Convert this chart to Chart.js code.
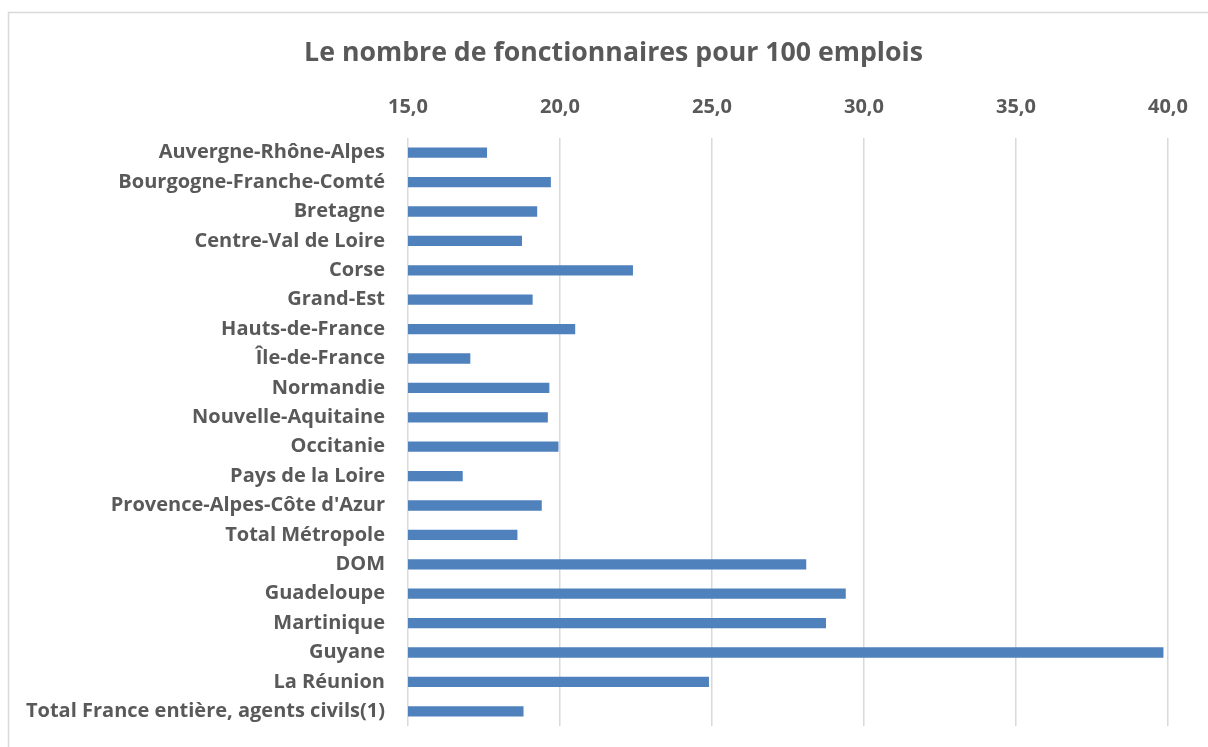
<!DOCTYPE html>
<html>
<head>
<meta charset="utf-8">
<script src="https://cdn.jsdelivr.net/npm/chart.js@4"></script>
<style>
html,body{margin:0;padding:0;background:#fff;}
#wrap{width:1208px;height:747px;}
</style>
</head>
<body>
<div id="wrap"><canvas id="c" width="1208" height="747"></canvas></div>
<script>
const chartTitle = "Le nombre de fonctionnaires pour 100 emplois";
const categories = [
  "Auvergne-Rhône-Alpes",
  "Bourgogne-Franche-Comté",
  "Bretagne",
  "Centre-Val de Loire",
  "Corse",
  "Grand-Est",
  "Hauts-de-France",
  "Île-de-France",
  "Normandie",
  "Nouvelle-Aquitaine",
  "Occitanie",
  "Pays de la Loire",
  "Provence-Alpes-Côte d'Azur",
  "Total Métropole",
  "DOM",
  "Guadeloupe",
  "Martinique",
  "Guyane",
  "La Réunion",
  "Total France entière, agents civils(1)"
];
const values = [17.6, 19.7, 19.25, 18.75, 22.4, 19.1, 20.5, 17.05, 19.65, 19.6, 19.95, 16.8, 19.4, 18.6, 28.1, 29.4, 28.75, 39.85, 24.9, 18.8];
const axisMin = 15, axisMax = 40, axisStep = 5;

const FONT = "'Open Sans', sans-serif";
const TEXT = "#595959";

const framePlugin = {
  id: 'frameAndTitle',
  beforeDraw(chart) {
    const ctx = chart.ctx;
    ctx.save();
    ctx.fillStyle = '#ffffff';
    ctx.fillRect(0, 0, chart.width, chart.height);
    ctx.strokeStyle = '#d9d9d9';
    ctx.lineWidth = 1.5;
    ctx.beginPath();
    ctx.moveTo(8.5, chart.height);
    ctx.lineTo(8.5, 12.5);
    ctx.lineTo(chart.width, 12.5);
    ctx.stroke();
    ctx.restore();
  },
  afterDraw(chart) {
    const ctx = chart.ctx;
    ctx.save();
    ctx.fillStyle = TEXT;
    ctx.font = "bold 26.7px " + FONT;
    ctx.textAlign = 'center';
    ctx.textBaseline = 'middle';
    ctx.fillText(chartTitle, 613.5, 53);
    ctx.restore();
  }
};

new Chart(document.getElementById('c'), {
  type: 'bar',
  data: {
    labels: categories,
    datasets: [{
      data: values,
      backgroundColor: '#4f81bd',
      borderWidth: 0,
      barPercentage: 0.7,
      categoryPercentage: 0.5
    }]
  },
  options: {
    indexAxis: 'y',
    responsive: false,
    animation: false,
    devicePixelRatio: 1,
    layout: { padding: { left: 8, right: 40, top: 80, bottom: 21 } },
    plugins: {
      legend: { display: false },
      tooltip: { enabled: false },
      title: { display: false }
    },
    scales: {
      x: {
        position: 'top',
        min: axisMin,
        max: axisMax,
        ticks: {
          stepSize: axisStep,
          color: TEXT,
          font: { family: FONT, size: 20, weight: 'bold' },
          padding: 19,
          callback: (v) => Number(v).toFixed(1).replace('.', ',')
        },
        grid: { color: '#d9d9d9', lineWidth: 1.5, drawTicks: false },
        border: { display: false },
        afterFit(scale) {
          scale.height = 58;
          scale.paddingLeft = 0; scale.paddingRight = 0;
        }
      },
      y: {
        ticks: {
          color: TEXT,
          font: { family: FONT, size: 20, weight: 'bold' },
          padding: 23,
          autoSkip: false
        },
        grid: { display: false, drawTicks: false },
        border: { display: false },
        afterFit(scale) {
          scale.width = 400;
          scale.paddingTop = 0; scale.paddingBottom = 0;
        }
      }
    }
  },
  plugins: [framePlugin]
});
</script>
</body>
</html>
